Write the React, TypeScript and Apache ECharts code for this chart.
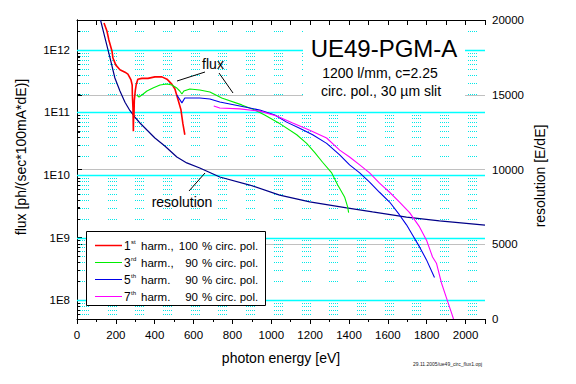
import React, { useEffect, useRef } from "react";
import * as echarts from "echarts";

// ---- data ----
const harm1Energy = [139, 154, 164, 180, 185, 200, 221, 247, 262, 278, 284, 285, 288, 289, 290, 292, 293, 295, 300, 305, 313, 334, 365, 401, 437, 463, 488, 504, 519, 535, 545, 555];
const harm1Flux = [2.69e12, 2.0e12, 1.44e12, 9.6e11, 7.4e11, 5.7e11, 4.8e11, 4.4e11, 4.1e11, 3.3e11, 2.74e11, 1.9e11, 1.18e11, 8.1e10, 5.0e10, 1.18e11, 8.0e10, 1.55e11, 2.24e11, 2.8e11, 3.4e11, 3.5e11, 3.5e11, 3.7e11, 3.7e11, 3.4e11, 2.84e11, 2.37e11, 1.64e11, 1.1e11, 6.6e10, 4.4e10];

const harm3Energy = [308, 319, 334, 360, 391, 427, 463, 488, 514, 529, 540, 550, 581, 632, 684, 745, 848, 915, 966, 1038, 1131, 1182, 1223, 1264, 1311, 1342, 1378, 1393, 1398];
const harm3Flux = [1.9e11, 1.76e11, 1.9e11, 2.2e11, 2.45e11, 2.74e11, 2.84e11, 2.74e11, 2.45e11, 2.2e11, 1.97e11, 2.2e11, 2.37e11, 2.28e11, 2.12e11, 1.7e11, 1.32e11, 1.09e11, 9.1e10, 6.8e10, 4.4e10, 3.2e10, 2.3e10, 1.6e10, 1.08e10, 6.9e9, 4.4e9, 3.1e9, 2.5e9];

const harm5Energy = [514, 540, 555, 596, 632, 684, 735, 838, 941, 1018, 1079, 1146, 1213, 1285, 1352, 1403, 1455, 1506, 1557, 1609, 1660, 1696, 1727, 1763, 1799, 1840];
const harm5Flux = [1.9e11, 1.42e11, 1.7e11, 1.7e11, 1.7e11, 1.64e11, 1.47e11, 1.27e11, 1.09e11, 9.1e10, 7.0e10, 5.6e10, 4.4e10, 3.2e10, 2.1e10, 1.45e10, 1.08e10, 7.7e9, 5.3e9, 3.7e9, 2.3e9, 1.6e9, 1.1e9, 7.1e8, 4.4e8, 2.3e8];

const harm7Energy = [704, 735, 838, 941, 1028, 1110, 1198, 1285, 1352, 1403, 1455, 1506, 1557, 1609, 1660, 1712, 1763, 1799, 1830, 1850, 1876, 1902, 1928, 1938];
const harm7Flux = [1.27e11, 1.18e11, 1.14e11, 1.05e11, 8.8e10, 6.8e10, 5.2e10, 3.9e10, 2.5e10, 1.94e10, 1.45e10, 1.08e10, 7.4e9, 5.3e9, 3.7e9, 2.5e9, 1.48e9, 9.1e8, 4.9e8, 3.9e8, 1.88e8, 1.08e8, 6.2e7, 5.0e7];

const resEnergy = [121, 144, 170, 195, 221, 247, 272, 298, 324, 360, 401, 452, 514, 565, 632, 735, 889, 1043, 1198, 1388, 1521, 1696, 1866, 2100];
const resValue = [20000, 18800, 17460, 16120, 15250, 14500, 13950, 13500, 13110, 12640, 12110, 11570, 10840, 10440, 10100, 9500, 8960, 8290, 7830, 7430, 7160, 6820, 6560, 6280];

// axis structure
const fluxMajorLines = [1e8, 1e9, 1e10, 1e11, 1e12];
const fluxMinorLines = [
  6e7, 7e7, 8e7, 9e7,
  2e8, 3e8, 4e8, 5e8, 6e8, 7e8, 8e8, 9e8,
  2e9, 3e9, 4e9, 5e9, 6e9, 7e9, 8e9, 9e9,
  2e10, 3e10, 4e10, 5e10, 6e10, 7e10, 8e10, 9e10,
  2e11, 3e11, 4e11, 5e11, 6e11, 7e11, 8e11, 9e11,
  2e12,
];

// legend
const legendNum = ["1", "3", "5", "7"];
const legendSup = ["st", "rd", "th", "th"];
const legendHarm = ["harm.,", "harm.,", "harm.", "harm."];
const legendPct = ["100", "90", "90", "90"];
const seriesColors = ["#FF0000", "#00EE00", "#0000E8", "#FF00FF"];
const resColor = "#000088";

const FONT = "Arial, 'Liberation Sans', Helvetica, sans-serif";

function zip(xs: number[], ys: number[]) {
  return xs.map((x, i) => [x, ys[i]]);
}

export default function App() {
  const ref = useRef<HTMLDivElement>(null);
  useEffect(() => {
    const chart = echarts.init(ref.current!, null, { renderer: "svg" });

    const minorGridSeries = {
      type: "custom",
      xAxisIndex: 0,
      yAxisIndex: 0,
      silent: true,
      z: 1,
      encode: { x: 0, y: 1 },
      data: fluxMinorLines.map((v) => [0, v]),
      renderItem: (params: any, api: any) => {
        const v = api.value(1);
        const p1 = api.coord([0, v]);
        const p2 = api.coord([2100, v]);
        const y = Math.round(p1[1]) + 0.5;
        const children: any[] = [];
        for (let x = p1[0] + 3; x + 9 <= p2[0]; x += 27.7) {
          const sx = Math.round(x);
          children.push({
            type: "line",
            shape: { x1: sx, y1: y, x2: sx + 9, y2: y },
            style: { stroke: "#00E8E8", lineWidth: 1, lineDash: [1, 1] },
          });
        }
        return { type: "group", children };
      },
    };

    const majorGridSeries = {
      type: "custom",
      xAxisIndex: 0,
      yAxisIndex: 0,
      silent: true,
      z: 1,
      encode: { x: 0, y: 1 },
      data: fluxMajorLines.map((v) => [0, v]),
      renderItem: (params: any, api: any) => {
        const v = api.value(1);
        const p1 = api.coord([0, v]);
        const p2 = api.coord([2100, v]);
        const y = Math.round(p1[1]) + 0.5;
        return {
          type: "line",
          shape: { x1: p1[0], y1: y, x2: p2[0], y2: y },
          style: { stroke: "#00FFFF", lineWidth: 1.4 },
        };
      },
    };

    const minorTickSeries = {
      type: "custom",
      xAxisIndex: 0,
      yAxisIndex: 0,
      silent: true,
      z: 5,
      encode: { x: 0, y: 1 },
      data: fluxMinorLines.map((v) => [0, v]),
      renderItem: (params: any, api: any) => {
        const v = api.value(1);
        const p1 = api.coord([0, v]);
        const y = Math.round(p1[1]) + 0.5;
        return {
          type: "line",
          shape: { x1: p1[0], y1: y, x2: p1[0] + 3, y2: y },
          style: { stroke: "#000", lineWidth: 1 },
        };
      },
    };

    const fluxLine = (name: string, xs: number[], ys: number[], color: string, w: number) => ({
      name,
      type: "line",
      xAxisIndex: 0,
      yAxisIndex: 0,
      data: zip(xs, ys),
      showSymbol: false,
      symbol: "none",
      z: 10,
      lineStyle: { color, width: w },
    });

    const legendGraphics: any[] = [
      {
        type: "rect",
        shape: { x: 86.5, y: 231.5, width: 179, height: 74 },
        style: { fill: "#fff", stroke: "#000", lineWidth: 1 },
        z: 100,
      },
    ];
    const rowsY = [245, 262, 279, 296];
    const lt = (text: string, x: number, y: number, size: number, align: string) => ({
      type: "text",
      x,
      y,
      z: 101,
      style: { text, fontSize: size, fontFamily: FONT, fill: "#000", textAlign: align, textVerticalAlign: "middle" },
    });
    rowsY.forEach((y, i) => {
      legendGraphics.push(
        {
          type: "line",
          shape: { x1: 95, y1: y + 0.5, x2: 122, y2: y + 0.5 },
          style: { stroke: seriesColors[i], lineWidth: i === 0 ? 1.5 : 1 },
          z: 101,
        },
        lt(legendNum[i], 124, y + 1, 12, "left"),
        lt(legendSup[i], 131, y - 3, 6, "left"),
        lt(legendHarm[i], 141, y + 1, 11.5, "left"),
        lt(legendPct[i], 198, y + 1, 11.5, "right"),
        lt("% circ. pol.", 202, y + 1, 11.5, "left")
      );
    });

    const txt = (text: string, x: number, y: number, size: number, extra: any = {}) => ({
      type: "text",
      x,
      y,
      z: 101,
      ...extra,
      style: { text, fontSize: size, fontFamily: FONT, fill: "#000", textAlign: "center", textVerticalAlign: "middle" },
    });

    const option: any = {
      animation: false,
      backgroundColor: "#fff",
      textStyle: { fontFamily: FONT },
      grid: { left: 77, top: 20, right: 91, bottom: 65 },
      xAxis: [
        {
          type: "value",
          position: "bottom",
          min: 0,
          max: 2100,
          interval: 200,
          axisLine: { show: true, lineStyle: { color: "#000", width: 1 } },
          axisTick: { show: true, inside: false, length: 5, lineStyle: { color: "#000" } },
          minorTick: { show: true, splitNumber: 2, length: 3, lineStyle: { color: "#000" } },
          axisLabel: { fontSize: 11.5, color: "#000", margin: 10, showMaxLabel: false, formatter: (v: number) => String(v) },
          splitLine: { show: false },
          name: "photon energy [eV]",
          nameLocation: "middle",
          nameGap: 32,
          nameTextStyle: { fontSize: 14, color: "#000" },
        },
        {
          type: "value",
          position: "top",
          min: 0,
          max: 2100,
          interval: 100,
          axisLine: { show: true, lineStyle: { color: "#000", width: 1 } },
          axisTick: { show: true, inside: true, length: 5, lineStyle: { color: "#000" } },
          axisLabel: { show: false },
          splitLine: { show: false },
        },
      ],
      yAxis: [
        {
          type: "log",
          position: "left",
          min: 5e7,
          max: 3e12,
          axisLine: { show: true, lineStyle: { color: "#000", width: 1 } },
          axisTick: { show: true, inside: true, length: 5, lineStyle: { color: "#000" } },
          axisLabel: {
            fontSize: 11.5,
            color: "#000",
            margin: 7,
            formatter: (v: number) => {
              const e = Math.log10(v);
              return Math.abs(e - Math.round(e)) < 1e-6 ? "1E" + Math.round(e) : "";
            },
          },
          splitLine: { show: false },
        },
        {
          type: "value",
          position: "right",
          min: 0,
          max: 20000,
          interval: 5000,
          axisLine: { show: true, lineStyle: { color: "#000", width: 1 } },
          axisTick: { show: true, inside: false, length: 5, lineStyle: { color: "#000" } },
          minorTick: { show: true, splitNumber: 2, length: 3, lineStyle: { color: "#000" } },
          axisLabel: { fontSize: 11.5, color: "#000", margin: 7, formatter: (v: number) => String(v) },
          splitLine: { show: true, lineStyle: { color: "#C0C0C0", width: 1 } },
        },
      ],
      series: [
        minorGridSeries,
        majorGridSeries,
        minorTickSeries,
        {
          name: "resolution",
          type: "line",
          xAxisIndex: 0,
          yAxisIndex: 1,
          data: zip(resEnergy, resValue),
          showSymbol: false,
          symbol: "none",
          z: 9,
          lineStyle: { color: resColor, width: 1.2 },
        },
        fluxLine("1st", harm1Energy, harm1Flux, seriesColors[0], 1.6),
        fluxLine("3rd", harm3Energy, harm3Flux, seriesColors[1], 1.1),
        fluxLine("5th", harm5Energy, harm5Flux, seriesColors[2], 1.1),
        fluxLine("7th", harm7Energy, harm7Flux, seriesColors[3], 1.1),
      ],
      graphic: [
        // title box
        { type: "rect", shape: { x: 303, y: 26, width: 162, height: 74 }, style: { fill: "#fff" }, z: 100 },
        txt("UE49-PGM-A", 384, 48, 24),
        txt("1200 l/mm, c=2.25", 380, 73, 14),
        txt("circ. pol., 30 \u00b5m slit", 381, 91, 14),
        // annotations
        txt("flux", 213, 64, 14),
        { type: "line", shape: { x1: 205, y1: 72, x2: 177, y2: 81 }, style: { stroke: "#000", lineWidth: 1 }, z: 101 },
        { type: "line", shape: { x1: 219, y1: 73, x2: 233, y2: 93 }, style: { stroke: "#000", lineWidth: 1 }, z: 101 },
        txt("resolution", 182, 202, 14),
        { type: "line", shape: { x1: 189, y1: 191, x2: 205, y2: 173 }, style: { stroke: "#000", lineWidth: 1 }, z: 101 },
        // axis names
        txt("flux [ph/(sec*100mA*dE)]", 21, 157, 14, { rotation: Math.PI / 2 }),
        txt("resolution [E/dE]", 540, 176, 14, { rotation: Math.PI / 2 }),
        // file stamp
        { type: "text", x: 413, y: 364, z: 101, style: { text: "29.11.2005/ue49_circ_flux1.opj", fontSize: 5, fontFamily: FONT, fill: "#222", textAlign: "left", textVerticalAlign: "middle" } },
        ...legendGraphics,
      ],
    };

    chart.setOption(option);
    return () => chart.dispose();
  }, []);

  return (
    <div
      ref={ref}
      style={{ position: "fixed", left: 0, top: 0, width: 576, height: 384, background: "#fff" }}
    />
  );
}
